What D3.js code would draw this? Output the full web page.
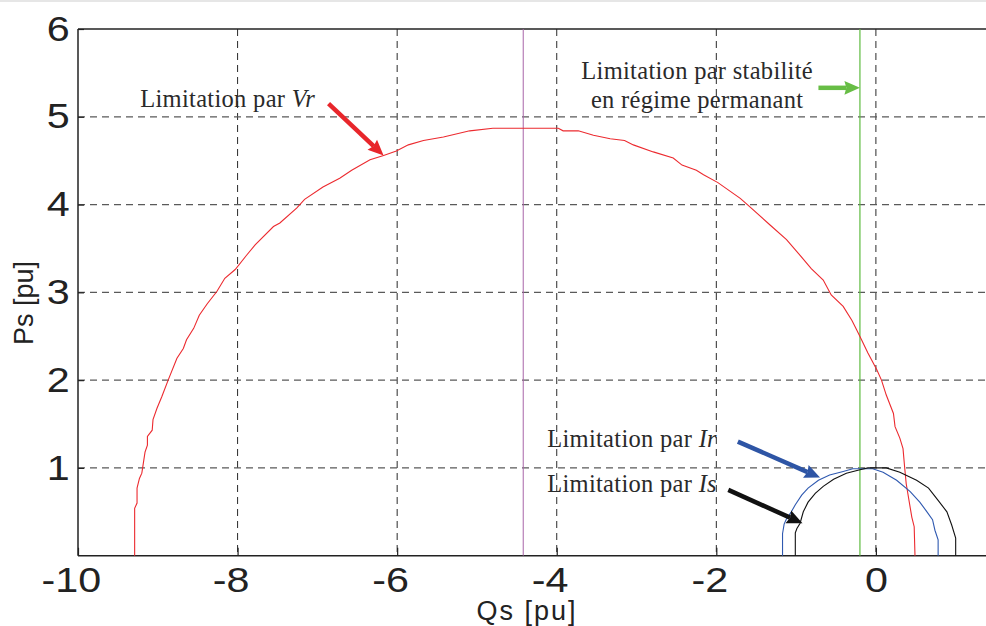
<!DOCTYPE html>
<html>
<head>
<meta charset="utf-8">
<script src="https://cdn.jsdelivr.net/npm/d3@7"></script>
<style>
  body { margin: 0; background: #fff; }
  svg { display: block; }
</style>
</head>
<body>
<script>
// ---- data ----
const xTicks = [-10, -8, -6, -4, -2, 0]
const yTicks = [1, 2, 3, 4, 5, 6]

// limitation by Vr (red)
const vrQs = [-9.29, -9.29, -9.26, -9.26, -9.23, -9.20, -9.18, -9.16, -9.13, -9.13, -9.07, -9.06, -9.01, -8.95, -8.87,
  -8.76, -8.68, -8.64, -8.55, -8.48, -8.38, -8.26, -8.16, -8.03, -7.89, -7.78, -7.55, -7.47, -7.26, -7.16, -6.93,
  -6.72, -6.57, -6.34, -6.17, -6.01, -5.86, -5.67, -5.42, -5.09, -4.80, -3.98, -3.92, -3.73, -3.54, -3.33, -3.15,
  -3.04, -2.79, -2.54, -2.43, -2.25, -2.16, -1.98, -1.70, -1.60, -1.33, -1.12, -0.95, -0.81, -0.66, -0.56, -0.41,
  -0.30, -0.24, -0.18, -0.10, 0.01, 0.07, 0.13, 0.22, 0.24, 0.30, 0.34, 0.36, 0.38, 0.45, 0.48, 0.49]
const vrPs = [0, 0.54, 0.60, 0.77, 0.88, 0.94, 1.06, 1.18, 1.26, 1.36, 1.43, 1.55, 1.68, 1.81, 2.00,
  2.25, 2.36, 2.46, 2.59, 2.74, 2.87, 3.01, 3.16, 3.26, 3.42, 3.54, 3.75, 3.79, 3.96, 4.06, 4.20,
  4.30, 4.39, 4.51, 4.56, 4.61, 4.68, 4.73, 4.77, 4.84, 4.87, 4.87, 4.84, 4.84, 4.79, 4.75, 4.73,
  4.68, 4.60, 4.53, 4.45, 4.39, 4.34, 4.25, 4.07, 3.99, 3.77, 3.60, 3.42, 3.27, 3.14, 2.97, 2.84,
  2.68, 2.57, 2.46, 2.31, 2.12, 2.00, 1.83, 1.62, 1.47, 1.34, 1.22, 1.01, 0.82, 0.44, 0.33, 0]

// limitation by Ir (blue)
const irQs = [-1.17, -1.17, -1.15, -1.12, -1.06, -1.01, -0.93, -0.85, -0.72, -0.58, -0.41, -0.29, -0.04,
  0.09, 0.26, 0.43, 0.55, 0.64, 0.71, 0.74, 0.78, 0.78]
const irPs = [0, 0.25, 0.36, 0.42, 0.50, 0.58, 0.69, 0.77, 0.86, 0.92, 0.96, 0.99, 0.99,
  0.95, 0.86, 0.73, 0.61, 0.50, 0.41, 0.29, 0.18, 0]

// limitation by Is (black)
const isQs = [-1.01, -1.01, -0.99, -0.95, -0.91, -0.85, -0.76, -0.66, -0.53, -0.37, -0.20, -0.10, 0.13,
  0.30, 0.51, 0.66, 0.78, 0.89, 0.95, 1.00, 1.00]
const isPs = [0, 0.26, 0.31, 0.37, 0.50, 0.61, 0.71, 0.79, 0.87, 0.94, 0.98, 1.00, 1.00,
  0.95, 0.86, 0.77, 0.63, 0.50, 0.35, 0.20, 0]

// vertical limits
const centreQs = -4.42   // thin purple line
const stabQs = -0.2      // green stability limit

const W = 986
const H = 626
const mLeft = 78, mRight = 986, mTop = 29, mBottom = 555.7

const x = d3.scaleLinear().domain([-10, 1.38]).range([mLeft, mRight])
const y = d3.scaleLinear().domain([0, 6]).range([mBottom, mTop])

const svg = d3.select("body").append("svg")
  .attr("width", W)
  .attr("height", H)

svg.append("rect").attr("x", 0).attr("y", 0).attr("width", W).attr("height", 2).attr("fill", "#e6e6e6")

// grid
svg.append("g").selectAll("line")
  .data(xTicks.slice(1))
  .enter().append("line")
  .attr("x1", d => x(d)).attr("x2", d => x(d))
  .attr("y1", mTop).attr("y2", mBottom)
  .attr("stroke", "#2a2a2a")
  .attr("stroke-width", 1)
  .attr("stroke-dasharray", "7,5")

svg.append("g").selectAll("line")
  .data(yTicks.slice(0, -1))
  .enter().append("line")
  .attr("x1", mLeft).attr("x2", mRight)
  .attr("y1", d => y(d)).attr("y2", d => y(d))
  .attr("stroke", "#5a5a5a")
  .attr("stroke-width", 1.3)
  .attr("stroke-dasharray", "7,5")

// axes
const xAxis = svg.append("g")
  .attr("transform", `translate(0,${mBottom})`)
  .call(d3.axisBottom(x).tickValues(xTicks).tickSize(-8).tickPadding(11).tickFormat(d3.format("d")))
const yAxis = svg.append("g")
  .attr("transform", `translate(${mLeft},0)`)
  .call(d3.axisLeft(y).tickValues(yTicks).tickSize(-6).tickPadding(7).tickFormat(d3.format("d")))

for (const ax of [xAxis, yAxis]) {
  ax.select(".domain").remove()
  ax.selectAll(".tick line").attr("stroke", "#222").attr("stroke-width", 1.2)
  ax.selectAll("text")
    .attr("fill", "#222")
    .style("font-family", "'Liberation Sans', Arial, sans-serif")
    .style("font-size", "35px")
    .attr("transform", "scale(1.18,1)")
}
// plain hyphen for negatives, label sits a little left as in the original
xAxis.selectAll("text")
  .text(d => d < 0 ? "-" + Math.abs(d) : d)
  .attr("dx", d => d < 0 ? -6 : 0)

// frame lines
svg.append("line").attr("x1", mLeft).attr("x2", mRight).attr("y1", mTop).attr("y2", mTop)
  .attr("stroke", "#222").attr("stroke-width", 1.5)
svg.append("line").attr("x1", mLeft).attr("x2", mRight).attr("y1", mBottom).attr("y2", mBottom)
  .attr("stroke", "#222").attr("stroke-width", 1.5)
svg.append("line").attr("x1", mLeft).attr("x2", mLeft).attr("y1", mTop).attr("y2", mBottom)
  .attr("stroke", "#222").attr("stroke-width", 1.5)

// vertical reference lines
svg.append("line")
  .attr("x1", x(centreQs)).attr("x2", x(centreQs))
  .attr("y1", y(6)).attr("y2", y(0))
  .attr("stroke", "#a865a8").attr("stroke-width", 1)
svg.append("line")
  .attr("x1", x(stabQs)).attr("x2", x(stabQs))
  .attr("y1", y(6)).attr("y2", y(0))
  .attr("stroke", "#5dbb3f").attr("stroke-width", 1.2)

// curves
const line = d3.line().x(d => x(d[0])).y(d => y(d[1]))
const curves = [
  { qs: vrQs, ps: vrPs, color: "#ec2a2f" },
  { qs: irQs, ps: irPs, color: "#2f59b0" },
  { qs: isQs, ps: isPs, color: "#111111" }
]
svg.append("g").selectAll("path")
  .data(curves)
  .enter().append("path")
  .attr("d", c => line(c.qs.map((q, i) => [q, c.ps[i]])))
  .attr("fill", "none")
  .attr("stroke", c => c.color)
  .attr("stroke-width", 1.1)

// annotation arrows (start and tip in data units)
const arrows = [
  { from: [-6.86, 5.15], to: [-6.17, 4.56], color: "#e8262b" },
  { from: [-0.72, 5.33], to: [-0.20, 5.33], color: "#67bd45" },
  { from: [-1.73, 1.30], to: [-0.70, 0.89], color: "#2e55a5" },
  { from: [-1.85, 0.75], to: [-0.92, 0.37], color: "#111111" }
]
arrows.forEach(a => {
  const x0 = x(a.from[0]), y0 = y(a.from[1]), x1 = x(a.to[0]), y1 = y(a.to[1])
  const ang = Math.atan2(y1 - y0, x1 - x0)
  const len = 17, half = 0.42
  const bx = x1 - Math.cos(ang) * len * 0.8, by = y1 - Math.sin(ang) * len * 0.8
  svg.append("line")
    .attr("x1", x0).attr("y1", y0).attr("x2", bx).attr("y2", by)
    .attr("stroke", a.color).attr("stroke-width", 4.5)
  const p1 = [x1 - Math.cos(ang - half) * len, y1 - Math.sin(ang - half) * len]
  const p2 = [x1 - Math.cos(ang + half) * len, y1 - Math.sin(ang + half) * len]
  svg.append("path")
    .attr("d", `M${x1},${y1}L${p1[0]},${p1[1]}L${bx},${by}L${p2[0]},${p2[1]}Z`)
    .attr("fill", a.color)
})

// annotation texts
const serif = "'Liberation Serif', 'Times New Roman', serif"
const notes = [
  { at: [-9.22, 5.11], plain: "Limitation par ", ital: "Vr", anchor: "start" },
  { at: [-4.12, 1.24], plain: "Limitation par ", ital: "Ir", anchor: "start" },
  { at: [-4.12, 0.73], plain: "Limitation par ", ital: "Is", anchor: "start" },
  { at: [-2.24, 5.43], plain: "Limitation par stabilité", ital: "", anchor: "middle" },
  { at: [-2.24, 5.10], plain: "en régime permanant", ital: "", anchor: "middle" }
]
notes.forEach(n => {
  const t = svg.append("text")
    .attr("x", x(n.at[0])).attr("y", y(n.at[1]))
    .attr("text-anchor", n.anchor)
    .attr("fill", "#2a2a2a")
    .style("font-family", serif)
    .style("font-size", "24.5px")
    .style("letter-spacing", "0.3px")
  t.append("tspan").text(n.plain)
  if (n.ital) t.append("tspan").style("font-style", "italic").text(n.ital)
})

// axis titles
svg.append("text")
  .attr("x", 527).attr("y", 620)
  .attr("text-anchor", "middle")
  .attr("fill", "#222")
  .style("font-family", "'Liberation Sans', Arial, sans-serif")
  .style("font-size", "27px")
  .style("letter-spacing", "2px")
  .text("Qs [pu]")

svg.append("text")
  .attr("transform", "translate(33,303) rotate(-90)")
  .attr("text-anchor", "middle")
  .attr("fill", "#222")
  .style("font-family", "'Liberation Sans', Arial, sans-serif")
  .style("font-size", "27px")
  .text("Ps [pu]")
</script>
</body>
</html>
